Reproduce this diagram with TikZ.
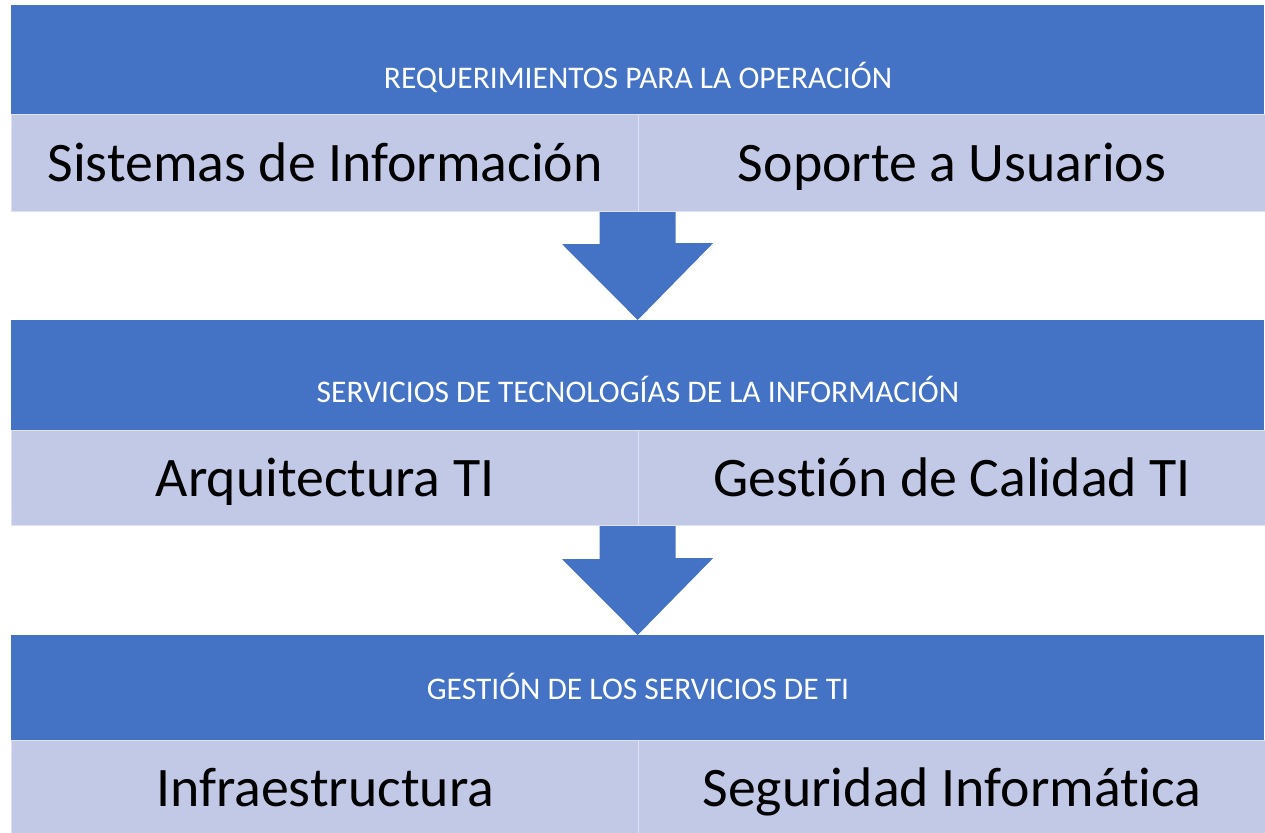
\documentclass[tikz,border=0pt]{standalone}
\usepackage{fontspec}
\setmainfont{Carlito}[Ligatures={NoCommon}]
\usetikzlibrary{positioning,calc}
\definecolor{azul}{RGB}{68,114,196}
\definecolor{celda}{RGB}{193,201,231}

\begin{document}
\begin{tikzpicture}[x=1pt,y=-1pt,
    banda/.style={fill=azul,inner sep=0pt,minimum width=1253pt,anchor=north west},
    titulo/.style={text=white,font=\fontsize{31.5}{36}\selectfont,inner sep=0pt,
      text height=20.3pt,text depth=0pt},
    caja/.style={fill=celda,draw=white!45!celda,line width=1.2pt,inner sep=0pt,
      minimum width=627pt,anchor=north west,font=\fontsize{55.8}{64}\selectfont,
      text height=36pt,text depth=0pt},
    flecha/.style={fill=azul}]
  \useasboundingbox (0,0) rectangle (1265,832);
  % nivel 1
  \node[banda,minimum height=109pt] (b1) at (11,5) {};
  \node[titulo] (t1) at (638,78) {REQUERIMIENTOS PARA LA OPERACIÓN};
  \node[caja,minimum height=97pt] (c11) at (11,114) {Sistemas de Información};
  \node[caja,minimum height=97pt] (c12) at (638,114) {Soporte a Usuarios};
  % nivel 2
  \node[banda,minimum height=110pt] (b2) at (11,320) {};
  \node[titulo] (t2) at (638,392) {SERVICIOS DE TECNOLOGÍAS DE LA INFORMACIÓN};
  \node[caja,minimum height=95pt] (c21) at (11,430) {Arquitectura TI};
  \node[caja,minimum height=95pt] (c22) at (638,430) {Gestión de Calidad TI};
  % nivel 3
  \node[banda,minimum height=105pt] (b3) at (11,635) {};
  \node[titulo] (t3) at (638,689) {GESTIÓN DE LOS SERVICIOS DE TI};
  \node[caja,minimum height=96pt] (c31) at (11,740) {Infraestructura};
  \node[caja,minimum height=96pt] (c32) at (638,740) {Seguridad Informática};
  % flechas
  \fill[flecha] ([xshift=-38pt]b2.north |- c11.south) -- ++(0,32) -- ++(-37.5,0)
    -- (b2.north) -- ++(75.5,-77) -- ++(-37.5,0) -- ([xshift=38pt]b2.north |- c11.south) -- cycle;
  \fill[flecha] ([xshift=-38pt]b3.north |- c21.south) -- ++(0,33) -- ++(-37.5,0)
    -- (b3.north) -- ++(75.5,-77) -- ++(-37.5,0) -- ([xshift=38pt]b3.north |- c21.south) -- cycle;
\end{tikzpicture}
\end{document}
